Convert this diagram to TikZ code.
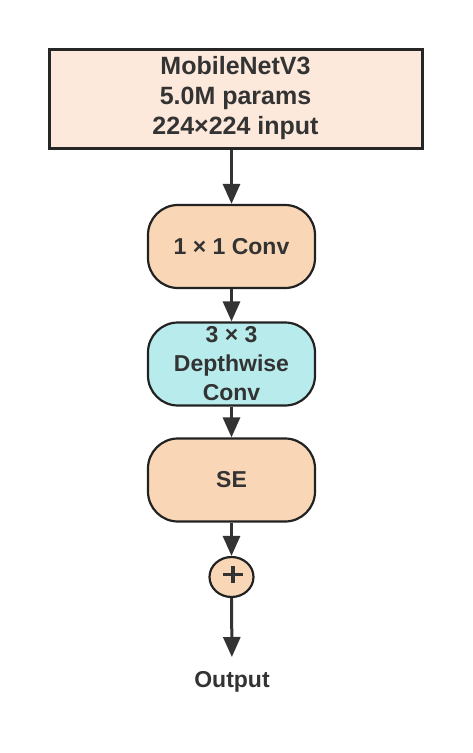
\documentclass[tikz,border=0pt]{standalone}
\usepackage{fontspec}
\setmainfont{Liberation Sans}
\usetikzlibrary{arrows.meta,calc,shapes.geometric}
\definecolor{txt}{HTML}{333333}
\definecolor{edge}{HTML}{222222}
\definecolor{topfill}{HTML}{FCE9DB}
\definecolor{peach}{HTML}{F8D6B6}
\definecolor{cyanf}{HTML}{B7EBEC}
\tikzset{
  stage/.style={draw=edge, line width=2.2pt, rounded corners=30pt, minimum width=167pt, minimum height=83pt, align=center, text=txt, font=\fontsize{23}{29}\selectfont\bfseries, inner sep=0pt},
  arr/.style={draw=txt, line width=3pt, -{Triangle[length=20pt,width=17pt]}},
}
\begin{document}
\begin{tikzpicture}[x=1pt,y=-1pt]
\useasboundingbox (0,0) rectangle (472,753);
\node[draw=black!85, line width=3pt, fill=topfill, minimum width=373pt, minimum height=99pt, align=center, text=txt, font=\fontsize{25}{30}\selectfont\bfseries, inner sep=0pt] (top) at (235.5,98.5) {MobileNetV3\\5.0M params\\224×224 input};
\node[stage, fill=peach] (c1) at (231.5,246.5) {1 × 1 Conv};
\node[stage, fill=cyanf] (dw) at (231.5,364) {3 × 3\\Depthwise\\Conv};
\node[stage, fill=peach] (se) at (231.5,480) {SE};
\node[draw=edge, line width=2.2pt, fill=peach, ellipse, minimum width=44pt, minimum height=40pt, inner sep=0pt] (add) at (231.5,577) {};
\draw[txt, line width=3.6pt] ($(add.center)+(-8.5,-2.5)$) -- ($(add.center)+(11.5,-2.5)$) ($(add.center)+(1.5,-11)$) -- ($(add.center)+(1.5,6)$);
\node[anchor=north, inner xsep=2pt, inner ysep=14pt, text=txt, font=\fontsize{23}{26}\selectfont\bfseries] (out) at (232,657) {Output};
\draw[arr] (top.south -| c1.north) -- (c1.north);
\draw[arr] (c1) -- (dw);
\draw[arr] (dw) -- (se);
\draw[arr] (se) -- (add);
\draw[arr] (add) -- (out);
\end{tikzpicture}
\end{document}
